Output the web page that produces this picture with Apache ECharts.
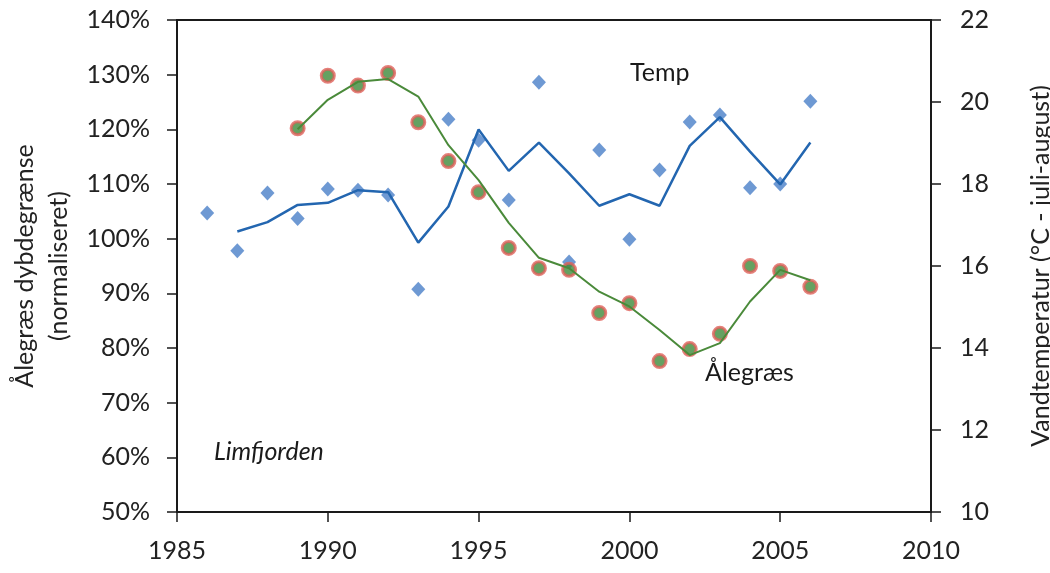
<!DOCTYPE html>
<html>
<head>
<meta charset="utf-8">
<script src="https://cdn.jsdelivr.net/npm/echarts@6/dist/echarts.min.js"></script>
<style>html,body{margin:0;padding:0;background:#fff;overflow:hidden}#c{width:1050px;height:573px}</style>
</head>
<body>
<div id="c"></div>
<script>
const tempYears = [1986,1987,1988,1989,1990,1991,1992,1993,1994,1995,1996,1997,1998,1999,2000,2001,2002,2003,2004,2005,2006];
const tempValues = [17.29,16.37,17.78,17.16,17.88,17.85,17.73,15.43,19.58,19.07,17.61,20.48,16.10,18.83,16.65,18.34,19.51,19.68,17.91,18.00,20.02];
const tempTrendYears = [1987,1988,1989,1990,1991,1992,1993,1994,1995,1996,1997,1998,1999,2000,2001,2002,2003,2004,2005,2006];
const tempTrend = [16.84,17.07,17.49,17.54,17.85,17.80,16.57,17.45,19.33,18.32,19.01,18.26,17.47,17.75,17.47,18.93,19.63,18.79,17.99,19.01];
const grassYears = [1989,1990,1991,1992,1993,1994,1995,1996,1997,1998,1999,2000,2001,2002,2003,2004,2005,2006];
const grassValues = [1.202,1.298,1.280,1.303,1.213,1.142,1.085,0.983,0.946,0.943,0.864,0.882,0.776,0.798,0.826,0.950,0.941,0.912];
const grassTrend = [1.200,1.254,1.287,1.292,1.260,1.171,1.107,1.029,0.965,0.946,0.903,0.876,0.833,0.787,0.809,0.885,0.943,0.924];

const pair = (xs, ys) => xs.map((x, i) => [x, ys[i]]);
const FONT = 'Lato';
const chart = echarts.init(document.getElementById('c'), null, { width: 1050, height: 573 });
chart.setOption({
  animation: false,
  backgroundColor: '#ffffff',
  textStyle: { fontFamily: FONT },
  grid: { left: 177, right: 119, top: 20, bottom: 61, containLabel: false, outerBoundsMode: 'none', show: true, borderColor: '#1a1a1a', borderWidth: 2, backgroundColor: 'transparent' },
  xAxis: {
    type: 'value', min: 1985, max: 2010, interval: 5,
    axisLine: { lineStyle: { color: '#1a1a1a', width: 2 } },
    axisTick: { show: true, length: 10, lineStyle: { color: '#1a1a1a', width: 1.5 } },
    axisLabel: { color: '#222', fontSize: 25, margin: 26, fontFamily: FONT, formatter: v => String(v) },
    splitLine: { show: false }
  },
  yAxis: [{
    type: 'value', min: 0.5, max: 1.4, interval: 0.1, position: 'left',
    name: 'Ålegræs dybdegrænse\n(normaliseret)', nameLocation: 'middle', nameRotate: 90, nameGap: 98,
    nameTextStyle: { color: '#222', fontSize: 25, lineHeight: 34, fontFamily: FONT },
    axisLine: { show: true, lineStyle: { color: '#1a1a1a', width: 2 } },
    axisTick: { show: true, length: 10, lineStyle: { color: '#1a1a1a', width: 1.5 } },
    axisLabel: { color: '#222', fontSize: 25, margin: 27, fontFamily: FONT, formatter: v => Math.round(v * 100) + '%' },
    splitLine: { show: false }
  }, {
    type: 'value', min: 10, max: 22, interval: 2, position: 'right',
    name: 'Vandtemperatur (°C - juli-august)', nameLocation: 'middle', nameRotate: 90, nameGap: 97,
    nameTextStyle: { color: '#222', fontSize: 25, fontFamily: FONT },
    axisLine: { show: true, lineStyle: { color: '#1a1a1a', width: 2 } },
    axisTick: { show: true, length: 10, lineStyle: { color: '#1a1a1a', width: 1.5 } },
    axisLabel: { color: '#222', fontSize: 25, margin: 29, fontFamily: FONT },
    splitLine: { show: false }
  }],
  series: [{
    name: 'Temp', type: 'scatter', yAxisIndex: 1, data: pair(tempYears, tempValues),
    symbol: 'diamond', symbolSize: [14, 15], itemStyle: { color: '#4a80c8' }, z: 2
  }, {
    name: 'Temp trend', type: 'line', yAxisIndex: 1, data: pair(tempTrendYears, tempTrend),
    showSymbol: false, symbol: 'none', lineStyle: { color: '#2366b0', width: 2.5 }, z: 3
  }, {
    name: 'Ålegræs', type: 'scatter', yAxisIndex: 0, data: pair(grassYears, grassValues),
    symbol: 'circle', symbolSize: 13, itemStyle: { color: '#3f8a3a', borderColor: '#e0605a', borderWidth: 3 }, z: 4
  }, {
    name: 'Ålegræs trend', type: 'line', yAxisIndex: 0, data: pair(grassYears, grassTrend),
    showSymbol: false, symbol: 'none', lineStyle: { color: '#4a8a3a', width: 2 }, z: 5
  }],
  graphic: [
    { type: 'text', left: 630, top: 60, style: { text: 'Temp', fontSize: 25, fontFamily: FONT, fill: '#1a1a1a' } },
    { type: 'text', left: 705, top: 360, style: { text: 'Ålegræs', fontSize: 25, fontFamily: FONT, fill: '#1a1a1a' } },
    { type: 'text', left: 214, top: 439, style: { text: 'Limfjorden', fontSize: 25, fontStyle: 'italic', fontFamily: FONT, fill: '#1a1a1a' } }
  ]
});
</script>
</body>
</html>
